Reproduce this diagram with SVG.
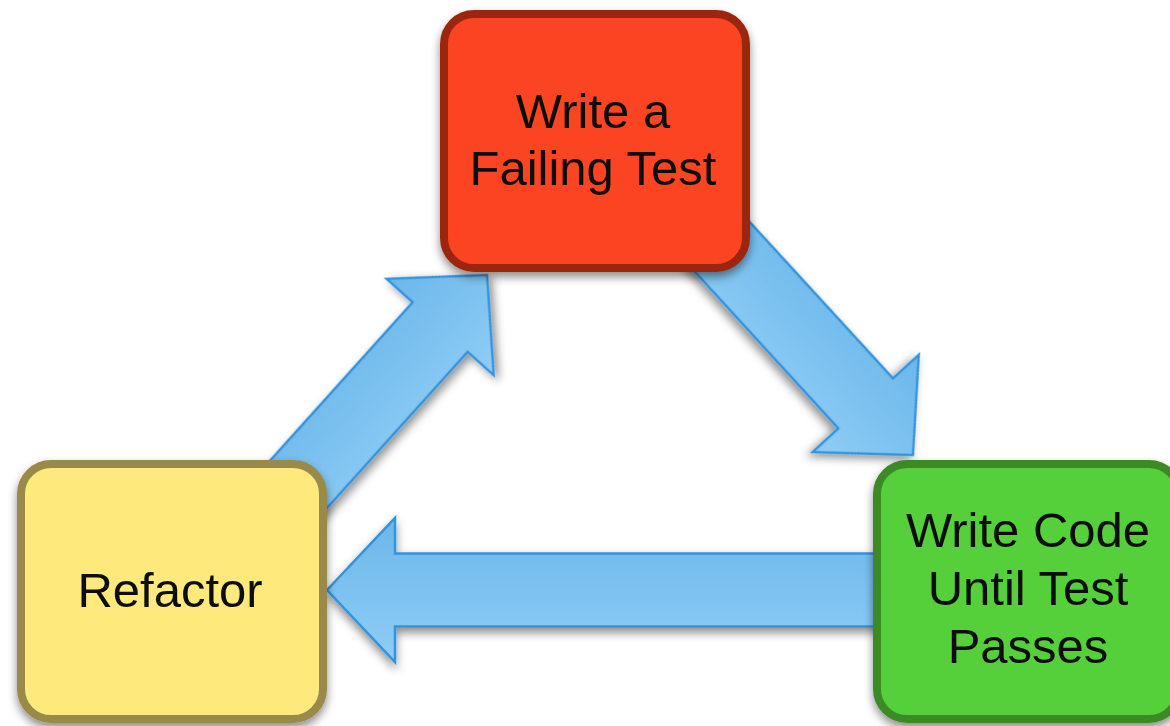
<svg xmlns="http://www.w3.org/2000/svg" width="1170" height="726" viewBox="0 0 1170 726">
  <defs>
    <linearGradient id="arrowFill" x1="0" y1="0" x2="0" y2="1">
      <stop offset="0" stop-color="#6ab7ea"/>
      <stop offset="1" stop-color="#8fcdf6"/>
    </linearGradient>
    <filter id="shadow" x="-20%" y="-20%" width="140%" height="150%">
      <feDropShadow dx="0" dy="5" stdDeviation="5" flood-color="#000" flood-opacity="0.45"/>
    </filter>
  </defs>
  <style>
    .arrow { fill: url(#arrowFill); stroke: #3593dc; stroke-width: 2.5; stroke-linejoin: miter; filter: url(#shadow); }
    .box { stroke-width: 8; filter: url(#shadow); }
    .label { font-family: "Liberation Sans", Arial, sans-serif; font-size: 49px; fill: #0d0d0d; text-anchor: middle; }
  </style>
  <rect width="1170" height="726" fill="#ffffff"/>

  <!-- connectors: block arrows drawn beneath the nodes -->
  <g id="connectors">
    <!-- Refactor -> Write a Failing Test -->
    <polygon class="arrow" transform="translate(487,275) rotate(-48)"
             points="0,0 -70,-72 -70,-37 -300,-37 -300,37 -70,37 -70,72"/>
    <!-- Write a Failing Test -> Write Code Until Test Passes -->
    <polygon class="arrow" transform="translate(913,455) rotate(47.5)"
             points="0,0 -70,-72 -70,-37 -310,-37 -310,37 -70,37 -70,72"/>
    <!-- Write Code Until Test Passes -> Refactor -->
    <polygon class="arrow"
             points="327,590 395,518 395,553.5 887,553.5 887,626.5 395,626.5 395,662"/>
  </g>

  <g id="node-failing-test">
    <rect class="box" x="444" y="14" width="302" height="254" rx="30" fill="#fb4520" stroke="#9b2811"/>
    <text class="label" x="593" y="128">Write a</text>
    <text class="label" x="593" y="185">Failing Test</text>
  </g>

  <g id="node-refactor">
    <rect class="box" x="21" y="464" width="302" height="255" rx="30" fill="#fde97c" stroke="#9a8a48"/>
    <text class="label" x="170" y="607">Refactor</text>
  </g>

  <g id="node-write-code">
    <rect class="box" x="877" y="464" width="302" height="255" rx="30" fill="#54d03a" stroke="#3b8a27"/>
    <text class="label" x="1028" y="547">Write Code</text>
    <text class="label" x="1028" y="605">Until Test</text>
    <text class="label" x="1028" y="663">Passes</text>
  </g>
</svg>
